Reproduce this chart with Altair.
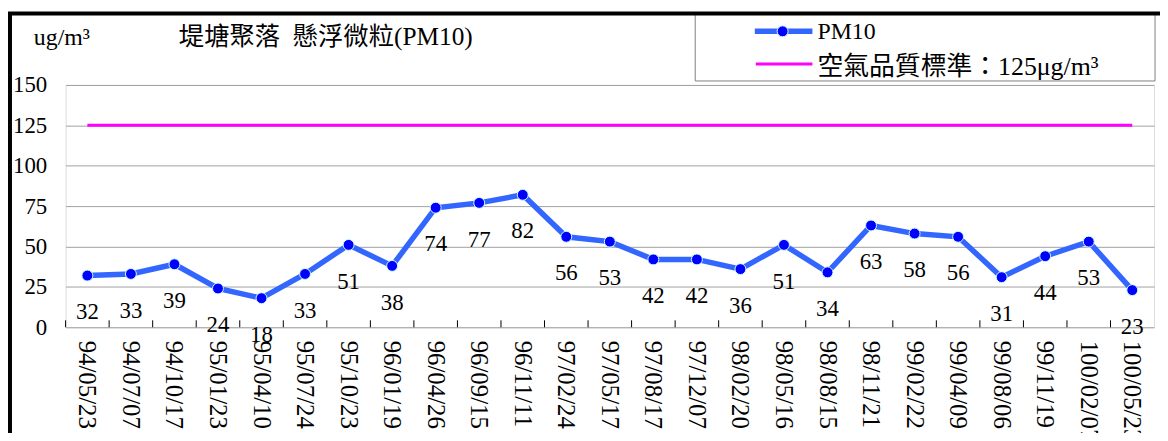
import altair as alt
import pandas as pd

dates = ["94/05/23", "94/07/07", "94/10/17", "95/01/23", "95/04/10", "95/07/24",
         "95/10/23", "96/01/19", "96/04/26", "96/09/15", "96/11/11", "97/02/24",
         "97/05/17", "97/08/17", "97/12/07", "98/02/20", "98/05/16", "98/08/15",
         "98/11/21", "99/02/22", "99/04/09", "99/08/06", "99/11/19", "100/02/07",
         "100/05/23"]
pm10 = [32, 33, 39, 24, 18, 33, 51, 38, 74, 77, 82, 56, 53, 42, 42, 36, 51, 34,
        63, 58, 56, 31, 44, 53, 23]
standard = 125
y_ticks = [0, 25, 50, 75, 100, 125, 150]

title_text = "堤塘聚落\u2002懸浮微粒(PM10)"
unit_text = "ug/m³"
legend_pm = "PM10"
legend_std = "空氣品質標準：125μg/m³"

FONT = "Liberation Serif, Times New Roman, Noto Sans CJK TC"
W, H = 1096, 244

df = pd.DataFrame({"date": dates, "value": pm10})
std_df = pd.DataFrame({"date": [dates[0], dates[-1]], "value": [standard, standard]})
one = pd.DataFrame({"k": [0]})

xscale = alt.Scale(type="band", paddingInner=0, paddingOuter=0)
yscale = alt.Scale(domain=[0, 150])

X = alt.X("date:N", sort=dates, scale=xscale,
          axis=alt.Axis(title=None, labelAngle=90, ticks=False, domain=False, grid=False,
                        labelFontSize=25, labelPadding=13, labelOverlap=False,
                        labelColor="black", labelFont=FONT))
Y = alt.Y("value:Q", scale=yscale,
          axis=alt.Axis(title=None, values=y_ticks, ticks=False, domain=False, grid=True,
                        gridColor="#a0a0a0", gridWidth=1, labelFontSize=23,
                        labelPadding=19, labelColor="black", labelFont=FONT))

base = alt.Chart(df)

grid_base = base.mark_point(opacity=0).encode(x=X, y=Y)

std_line = alt.Chart(std_df).mark_line(color="#ff00ff", strokeWidth=3).encode(
    x=alt.X("date:N", sort=dates, scale=xscale), y=alt.Y("value:Q", scale=yscale))

ticks = base.mark_rule(color="black", strokeWidth=1).encode(
    x=alt.X("date:N", sort=dates, scale=xscale, bandPosition=0),
    y=alt.value(H), y2=alt.value(H - 7))

line = base.mark_line(color="#3366ff", strokeWidth=5.5).encode(
    x=alt.X("date:N", sort=dates, scale=xscale), y=alt.Y("value:Q", scale=yscale))

points = base.mark_point(filled=True, fill="#0000ff", stroke="#ccffff", strokeWidth=1,
                         size=121, shape="circle", opacity=1).encode(
    x=alt.X("date:N", sort=dates, scale=xscale), y=alt.Y("value:Q", scale=yscale))

labels = base.mark_text(dy=37, fontSize=23, font=FONT, color="black", baseline="middle").encode(
    x=alt.X("date:N", sort=dates, scale=xscale), y=alt.Y("value:Q", scale=yscale),
    text=alt.Text("value:Q"))

# decorations: outer frame, title, unit, legend
frame = alt.Chart(one).mark_rect(fill=None, fillOpacity=0, stroke="black", strokeWidth=4).encode(
    x=alt.value(-56), x2=alt.value(1110), y=alt.value(-72), y2=alt.value(440))

title = alt.Chart(one).mark_text(text=title_text, fontSize=25.5, font=FONT, color="black",
                                 align="left", baseline="alphabetic").encode(
    x=alt.value(114), y=alt.value(-40))
unit = alt.Chart(one).mark_text(text=unit_text, fontSize=24, font=FONT, color="black",
                                align="left", baseline="alphabetic").encode(
    x=alt.value(-32), y=alt.value(-40))

leg_box = alt.Chart(one).mark_rect(fill=None, fillOpacity=0, stroke="#808080", strokeWidth=1).encode(
    x=alt.value(634), x2=alt.value(1097), y=alt.value(-72), y2=alt.value(-4))
leg_l1 = alt.Chart(one).mark_rule(color="#3366ff", strokeWidth=5.5).encode(
    x=alt.value(694), x2=alt.value(752), y=alt.value(-54))
leg_p1 = alt.Chart(one).mark_point(filled=True, fill="#0000ff", stroke="#ccffff", strokeWidth=1,
                                   size=121, shape="circle", opacity=1).encode(
    x=alt.value(722), y=alt.value(-54))
leg_t1 = alt.Chart(one).mark_text(text=legend_pm, fontSize=24, font=FONT, color="black",
                                  align="left", baseline="alphabetic").encode(
    x=alt.value(757), y=alt.value(-46))
leg_l2 = alt.Chart(one).mark_rule(color="#ff00ff", strokeWidth=3).encode(
    x=alt.value(695), x2=alt.value(752), y=alt.value(-21))
leg_t2 = alt.Chart(one).mark_text(text=legend_std, fontSize=26, font=FONT, color="black",
                                  align="left", baseline="alphabetic").encode(
    x=alt.value(757), y=alt.value(-10))

chart = alt.layer(
    grid_base, std_line, ticks, line, points, labels,
    leg_box, leg_l1, leg_p1, leg_t1, leg_l2, leg_t2, title, unit, frame
).properties(
    width=W, height=H,
    autosize=alt.AutoSizeParams(type="none"),
    padding={"left": 58, "top": 76, "right": 6, "bottom": 105},
    background="white",
).configure_view(
    stroke="black", strokeWidth=2.5
).configure(font=FONT)

chart.save("out.html", embed_options={"renderer": "svg", "actions": False})
